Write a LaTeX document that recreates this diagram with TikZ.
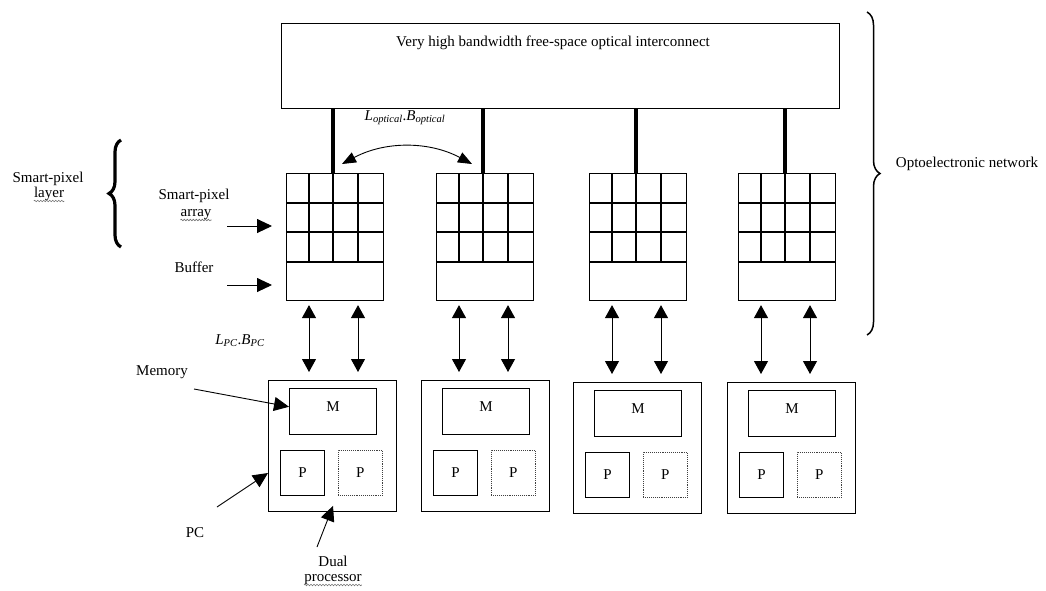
\documentclass[tikz,border=0pt]{standalone}
\usepackage{fontspec}
\setmainfont{Liberation Serif}
\usetikzlibrary{arrows.meta,calc,decorations.pathreplacing,decorations.pathmorphing}

\begin{document}
\begin{tikzpicture}[x=1pt,y=-1pt,
  lbl/.style={inner sep=0pt, font=\fontsize{15}{17}\selectfont},
  frame/.style={draw, line width=0.9pt, inner sep=0pt, font=\fontsize{15}{17}\selectfont},
  gridframe/.style={frame, line width=1.1pt},
  cell/.style={line width=1.1pt},
  link/.style={line width=3.4pt},
  arr/.style={line width=0.9pt, -{Triangle[length=15pt,width=14pt]}},
  biarr/.style={line width=1pt, {Triangle[length=13pt,width=14pt]}-{Triangle[length=13pt,width=14pt]}},
  curvearr/.style={line width=0.9pt, {Triangle[length=14pt,width=11pt]}-{Triangle[length=14pt,width=11pt]}},
  squig/.style={draw=black!55, line width=0.6pt, decorate, decoration={snake, amplitude=0.8pt, segment length=3pt}},
  bracel/.style={line width=3.2pt, decorate, decoration={brace, amplitude=12pt}},
  bracer/.style={line width=1.5pt, decorate, decoration={brace, amplitude=13pt}},
]
\useasboundingbox (0,0) rectangle (1046,590);

% optical interconnect
\node[frame, anchor=north west, minimum width=558pt, minimum height=85pt] (net) at (281,23) {};
\node[lbl, anchor=base] (nettext) at (553,46) {Very high bandwidth free-space optical interconnect};

% smart-pixel arrays with buffers
\foreach \i/\x in {1/286,2/436,3/589,4/738} {
  \node[gridframe, anchor=north west, minimum width=97pt, minimum height=127pt] (g\i) at (\x,173) {};
  \foreach \dy in {30,59,89}
    \draw[cell] ($(g\i.north west)+(0,\dy)$) -- ++(97,0);
  \foreach \dx in {23,47,72}
    \draw[cell] ($(g\i.north west)+(\dx,0)$) -- ++(0,89);
  \draw[link] ($(g\i.north west)+(47,0)$) coordinate (t\i) -- (t\i |- net.south);
}

% processing computers
\foreach \i/\x/\y in {1/268/380,2/421/380,3/573/382,4/727/382} {
  \node[frame, anchor=north west, minimum width=128pt, minimum height=131pt] (pc\i) at (\x,\y) {};
  \node[frame, anchor=north west, minimum width=87pt, minimum height=46pt,
        label={[lbl, anchor=north, yshift=-13pt]north:M}] (m\i) at ($(pc\i.north west)+(21,8)$) {};
  \node[frame, anchor=north west, minimum width=44pt, minimum height=45pt] (p\i) at ($(pc\i.north west)+(12,70)$) {P};
  \node[frame, draw=black!75, densely dotted, line width=0.8pt, anchor=north west, minimum width=44pt, minimum height=45pt] (q\i) at ($(pc\i.north west)+(70,70)$) {P};
  \draw[biarr, shorten <=4pt, shorten >=8pt] ($(g\i.south west)+(23,0)$) coordinate (ua\i) -- (ua\i |- pc\i.north);
  \draw[biarr, shorten <=4pt, shorten >=8pt] ($(g\i.south west)+(72,0)$) coordinate (ub\i) -- (ub\i |- pc\i.north);
}

% optical link between arrays
\coordinate (ca) at (342,164);
\coordinate (cb) at (472,164);
\draw[curvearr] (ca) .. controls (385,141) and (429,141) .. (cb);
\node[lbl] (lopt) at (405,118) {\textit{L}\textsubscript{\textit{optical}}.\textit{B}\textsubscript{\textit{optical}}};
\node[lbl] (lpc) at (240,341) {\textit{L}\textsubscript{\textit{PC}}.\textit{B}\textsubscript{\textit{PC}}};

% left labels
\node[lbl, anchor=base] (spl1) at (48,182) {Smart-pixel};
\node[lbl, anchor=base] (spl2) at (49,197) {layer};
\draw[squig] ($(spl2.base west)+(0,4)$) -- ($(spl2.base east)+(0,4)$);
\draw[bracel] (121,247) -- (121,140);

\node[lbl, anchor=base] (spa1) at (194,199) {Smart-pixel};
\node[lbl, anchor=base] (spa2) at (196,216) {array};
\draw[squig] ($(spa2.base west)+(0,4)$) -- ($(spa2.base east)+(0,4)$);
\draw[arr] ($(g1.north west)+(-59,53)$) -- ($(g1.north west)+(-14,53)$);

\node[lbl, anchor=base] (buf) at (194,272) {Buffer};
\draw[arr] ($(g1.north west)+(-59,112)$) -- ($(g1.north west)+(-14,112)$);

\node[lbl, anchor=base] (mem) at (162,375) {Memory};
\coordinate (memtail) at (194,389);
\draw[arr] (memtail) -- ($(m1.north west)!0.4!(m1.south west)$);

\node[lbl, anchor=base] (pclbl) at (195,537) {PC};
\coordinate (pctail) at (217,507);
\draw[arr] (pctail) -- ($(pc1.north west)+(0,93)$);

\node[lbl, anchor=base] (dual1) at (333,566) {Dual};
\node[lbl, anchor=base] (dual2) at (333,581) {processor};
\draw[squig] ($(dual2.base west)+(0,4)$) -- ($(dual2.base east)+(0,4)$);
\coordinate (dualtail) at (317,547);
\draw[arr] (dualtail) -- ($(pc1.south west)+(65,-6)$);

% right brace
\draw[bracer] (867,12) -- (867,335);
\node[lbl, anchor=base] (opto) at (967,167) {Optoelectronic network};
\end{tikzpicture}
\end{document}
